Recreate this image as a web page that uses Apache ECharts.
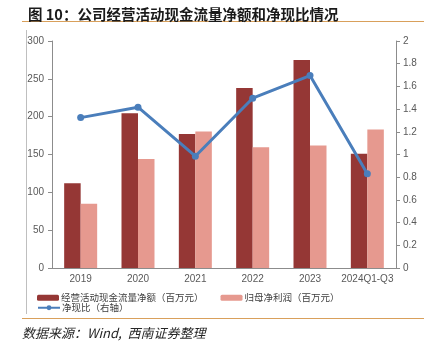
<!DOCTYPE html>
<html><head><meta charset="utf-8">
<script src="https://cdn.jsdelivr.net/npm/echarts@6/dist/echarts.min.js"></script>
<style>html,body{margin:0;padding:0;background:#fff}#c{width:430px;height:355px}</style>
</head><body><div id="c"></div>
<script>
const categories = ['2019','2020','2021','2022','2023','2024Q1-Q3'];
const cashFlow = [112, 204.5, 177, 238, 275, 151];
const netProfit = [85, 144, 180.5, 159.5, 162, 183];
const cashRatio = [1.325, 1.417, 0.985, 1.496, 1.695, 0.83];
const leftTicks = {min: 0, max: 300, interval: 50};
const rightTicks = {min: 0, max: 2, interval: 0.2};
const names = ['经营活动现金流量净额（百万元）', '归母净利润（百万元）', '净现比（右轴）'];
const titleText = '图 10：公司经营活动现金流量净额和净现比情况';
const footerText = '数据来源：Wind,  西南证券整理';

const chart = echarts.init(document.getElementById('c'), null, {renderer: 'canvas'});
const axisColor = '#8c8c8c';
const labelStyle = {color: '#595959', fontSize: 10, fontFamily: 'Liberation Sans, Arial, sans-serif'};
chart.setOption({
  animation: false,
  title: {
    text: titleText, left: 23, top: 2,
    textStyle: {fontSize: 14.5, fontWeight: 'bold', color: '#1a1a1a', fontFamily: 'Noto Sans CJK SC'}
  },
  graphic: [
    {type: 'line', shape: {x1: 22, y1: 21.5, x2: 424, y2: 21.5}, style: {stroke: '#D9A05B', lineWidth: 1.2}},
    {type: 'line', shape: {x1: 26.5, y1: 30, x2: 26.5, y2: 314}, style: {stroke: '#bfbfbf', lineWidth: 1}},
    {type: 'line', shape: {x1: 22, y1: 318.5, x2: 424, y2: 318.5}, style: {stroke: '#D9A05B', lineWidth: 1.2}},
    {type: 'text', left: 22, top: 327, style: {text: footerText, fill: '#262626', font: 'italic 13px "Noto Sans CJK SC"'}}
  ],
  legend: [
    {data: [names[0], names[1]], left: 37, top: 293, itemWidth: 22, itemHeight: 6, itemGap: 17, padding: 0,
     textStyle: {fontSize: 9.5, color: '#404040', fontFamily: 'Noto Sans CJK SC', padding: [0,0,0,-3]}},
    {data: [names[2]], left: 37, top: 303, itemWidth: 22, itemHeight: 6, padding: 0,
     textStyle: {fontSize: 9.5, color: '#404040', fontFamily: 'Noto Sans CJK SC', padding: [0,0,0,-3]}}
  ],
  grid: {left: 52, right: 34, top: 41, bottom: 87},
  xAxis: {
    type: 'category', data: categories,
    axisLine: {lineStyle: {color: axisColor}},
    axisTick: {alignWithLabel: false, length: 4, lineStyle: {color: axisColor}},
    axisLabel: Object.assign({margin: 6, interval: 0}, labelStyle)
  },
  yAxis: [
    {type: 'value', min: leftTicks.min, max: leftTicks.max, interval: leftTicks.interval,
     axisLine: {show: true, lineStyle: {color: axisColor}},
     axisTick: {show: true, length: 4, lineStyle: {color: axisColor}},
     splitLine: {show: false}, axisLabel: Object.assign({margin: 8}, labelStyle)},
    {type: 'value', min: rightTicks.min, max: rightTicks.max, interval: rightTicks.interval,
     axisLine: {show: true, lineStyle: {color: axisColor}},
     axisTick: {show: true, length: 4, lineStyle: {color: axisColor}},
     splitLine: {show: false}, axisLabel: Object.assign({margin: 7}, labelStyle)}
  ],
  series: [
    {name: names[0], type: 'bar', data: cashFlow, barWidth: 16.5, barGap: '0%', itemStyle: {color: '#953735'}},
    {name: names[1], type: 'bar', data: netProfit, barWidth: 16.5, barGap: '0%', itemStyle: {color: '#E6998F'}},
    {name: names[2], type: 'line', yAxisIndex: 1, data: cashRatio, symbol: 'circle', symbolSize: 7,
     lineStyle: {color: '#4A7EBB', width: 3}, itemStyle: {color: '#4A7EBB'}}
  ]
});
</script></body></html>
